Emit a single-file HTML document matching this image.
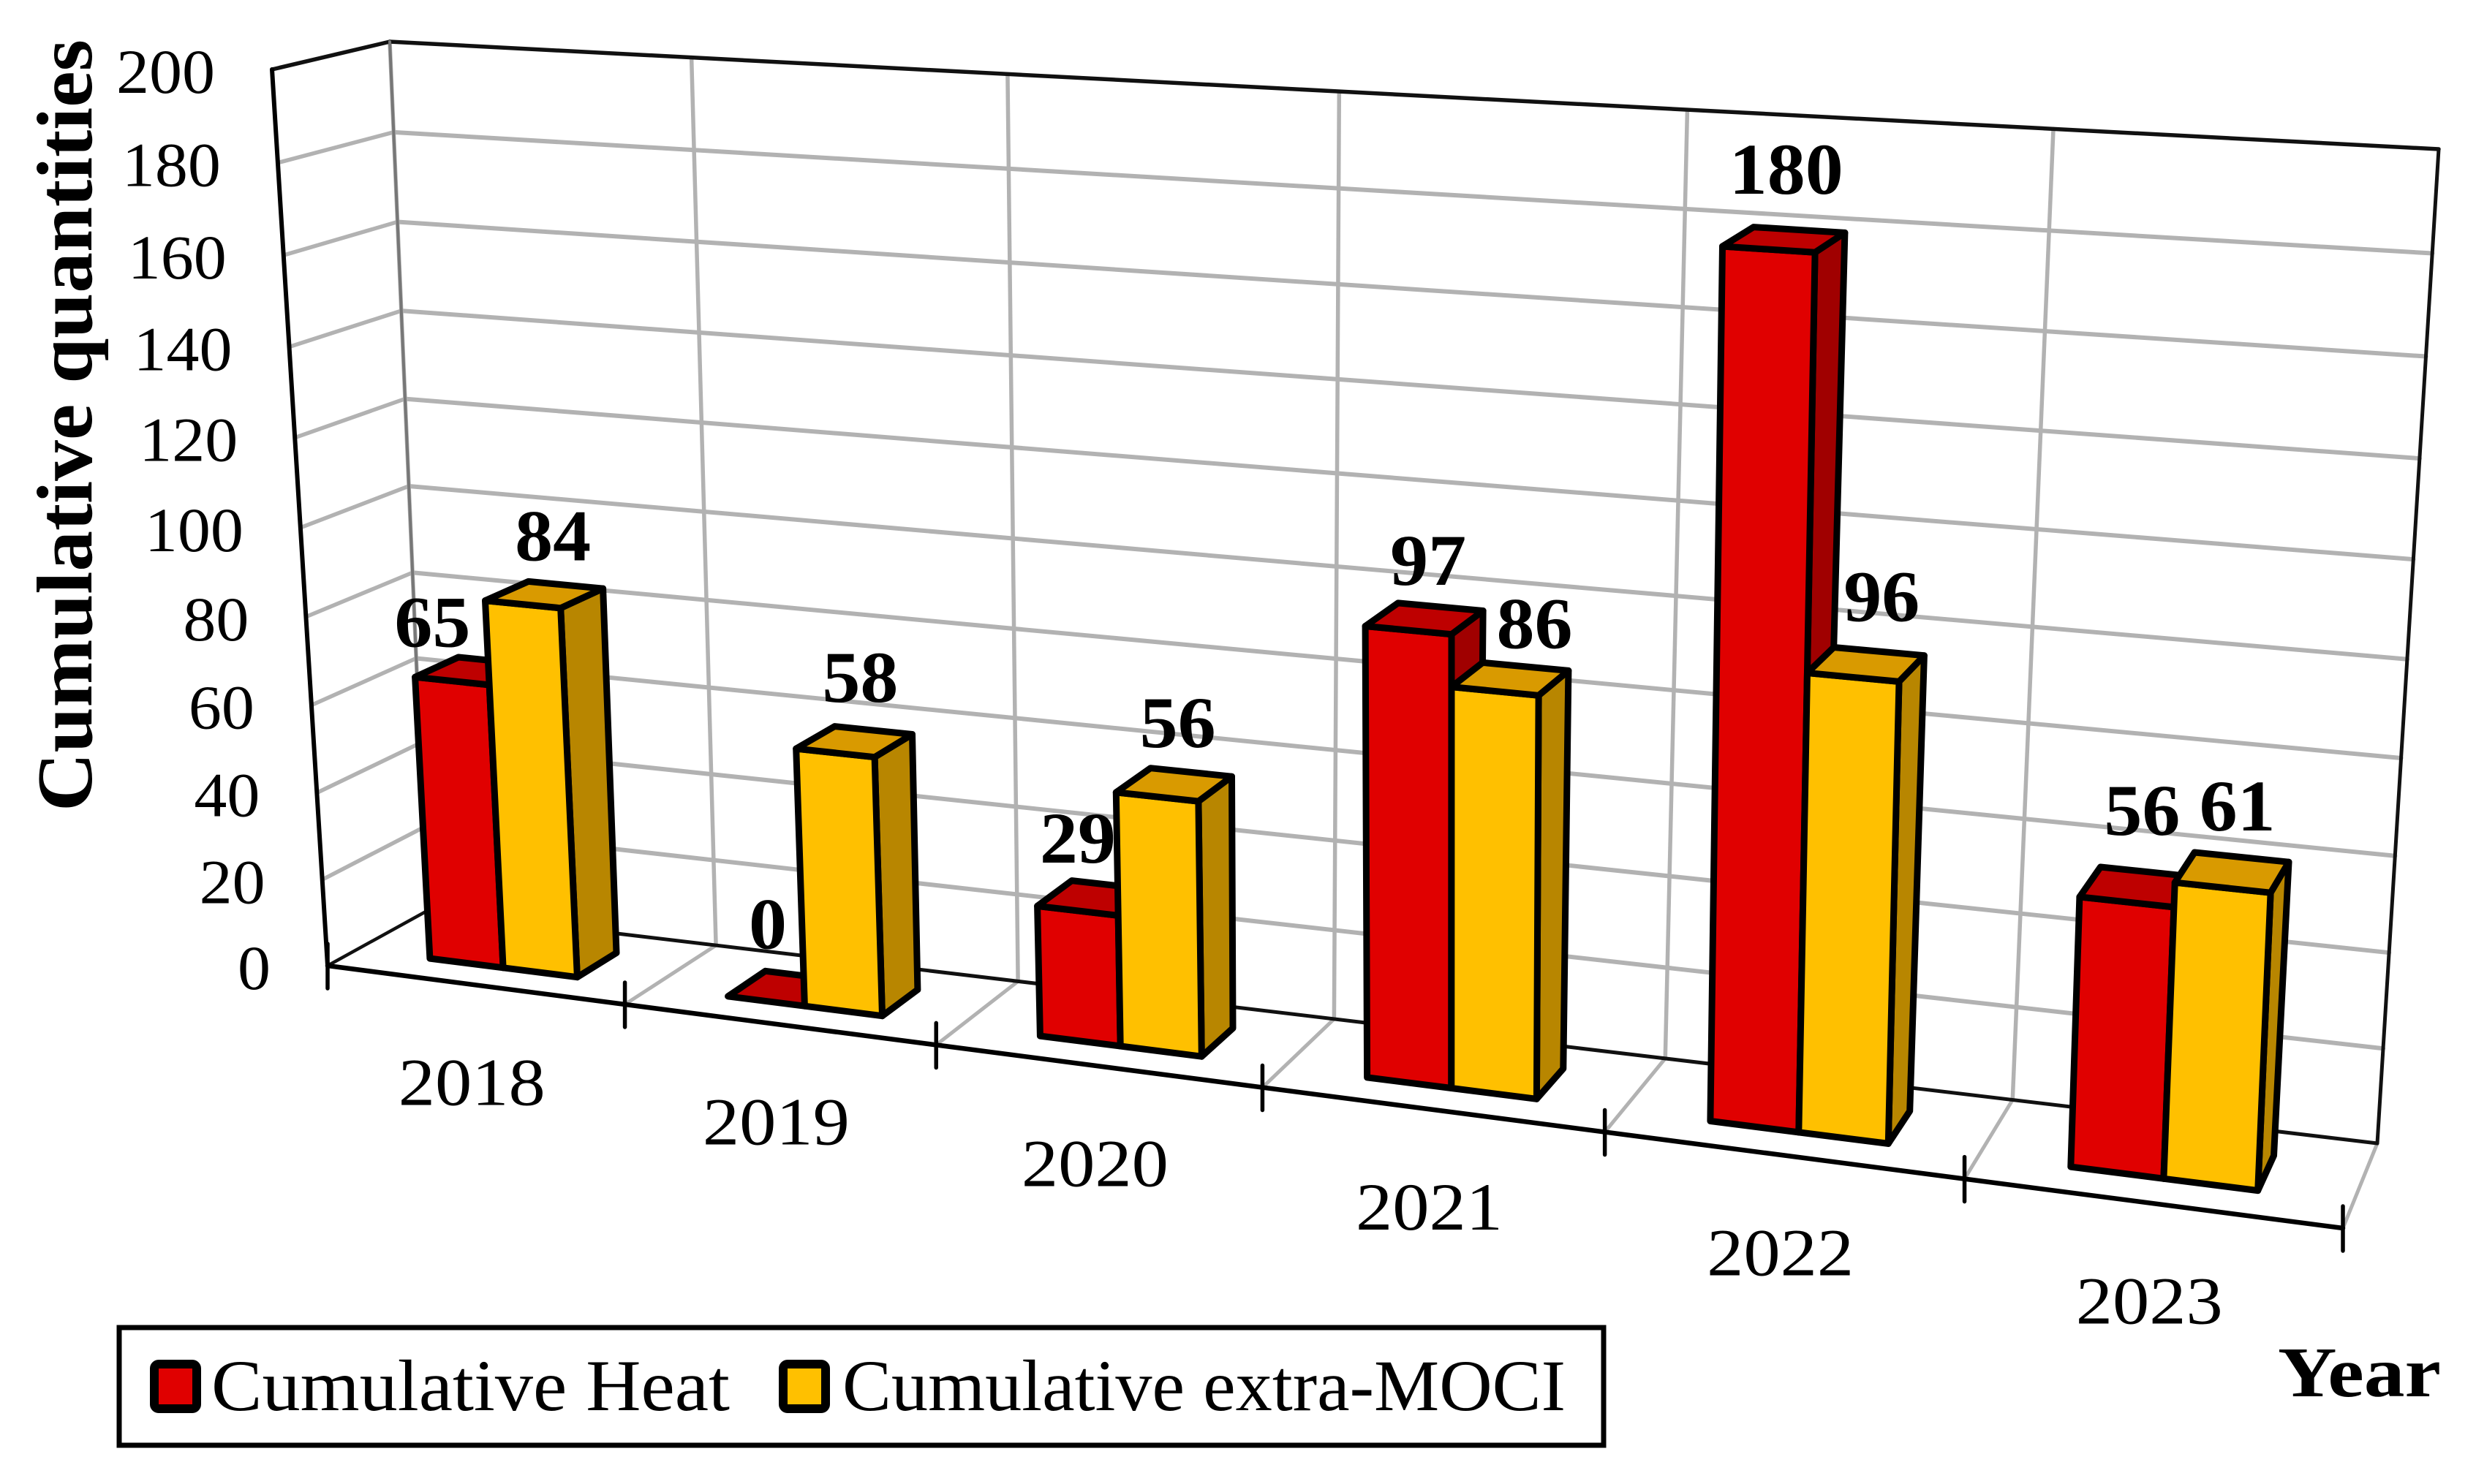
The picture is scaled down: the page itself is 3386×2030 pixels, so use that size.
<!DOCTYPE html>
<html lang="en">
<head>
<meta charset="utf-8">
<title>Cumulative quantities by year</title>
<style>
html,body{margin:0;padding:0;background:#fff;}
svg{display:block;}
text{font-family:"Liberation Serif","DejaVu Serif",serif;fill:#000;}
</style>
</head>
<body>
<svg id="chart" xmlns="http://www.w3.org/2000/svg" width="3386" height="2030" viewBox="0 0 3386 2030">
  <rect x="0" y="0" width="3386" height="2030" fill="#ffffff"/>
  <g id="walls"></g>
  <g id="yticks"></g>
  <g id="xaxis"></g>
  <g id="bars"></g>
  <g id="labels"></g>
  <text transform="translate(125,1110) rotate(-90)" font-size="108" font-weight="700" textLength="1056" lengthAdjust="spacingAndGlyphs">Cumulative quantities</text>
  <text x="3115" y="1910" font-size="98" font-weight="700" textLength="223" lengthAdjust="spacingAndGlyphs">Year</text>
  <g>
    <rect x="163" y="1816" width="2030" height="161" fill="#ffffff" stroke="#000" stroke-width="7"/>
    <g>
      <rect x="211" y="1866" width="58" height="61" rx="6" fill="#E00000" stroke="#000" stroke-width="12"/>
      <text x="289" y="1929" font-size="100" textLength="709" lengthAdjust="spacingAndGlyphs">Cumulative Heat</text>
    </g>
    <g>
      <rect x="1071" y="1866" width="58" height="61" rx="6" fill="#FFC000" stroke="#000" stroke-width="12"/>
      <text x="1152" y="1929" font-size="100" textLength="989" lengthAdjust="spacingAndGlyphs">Cumulative extra-MOCI</text>
    </g>
  </g>
</svg>
<script>
// ---- chart data ----
const categories = ['2018', '2019', '2020', '2021', '2022', '2023'];
const heatValues = [65, 0, 29, 97, 180, 56];
const mociValues = [84, 58, 56, 86, 96, 61];
const yTickLabels = [0, 20, 40, 60, 80, 100, 120, 140, 160, 180, 200];
const yMax = 200;

// ---- manual label nudges relative to each bar's top edge ----
const heatLabelNudge = [[-27, -47], [2, -72], [0, -66], [27, -62], [24, -76], [21, -92]];
const mociLabelNudge = [[41, -60], [34, -70], [28, -68], [54, -59], [39, -77], [20, -78]];

const SVGNS = 'http://www.w3.org/2000/svg';

// Projective planes: corners are bottom-left, bottom-right, top-right, top-left
function planeFromCorners(c) {
  const [x0, y0] = c[0], [x1, y1] = c[1], [x2, y2] = c[2], [x3, y3] = c[3];
  const dx1 = x1 - x2, dx2 = x3 - x2, sx = x0 - x1 + x2 - x3;
  const dy1 = y1 - y2, dy2 = y3 - y2, sy = y0 - y1 + y2 - y3;
  const den = dx1 * dy2 - dx2 * dy1;
  const g = (sx * dy2 - dx2 * sy) / den;
  const h = (dx1 * sy - sx * dy1) / den;
  const a = x1 - x0 + g * x1, b = x3 - x0 + h * x3;
  const d = y1 - y0 + g * y1, e = y3 - y0 + h * y3;
  return function (u, v) {
    const w = g * u + h * v + 1;
    return [(a * u + b * v + x0) / w, (d * u + e * v + y0) / w];
  };
}
const frontPlane = planeFromCorners([[448, 1321], [3204, 1680], [3263, 272], [372, 95]]);
const backPlane = planeFromCorners([[584, 1246], [3251, 1564], [3335, 204], [533, 57]]);

// category axis position -> 0..1 across the plot
function xScale(c) { return c / categories.length; }
// value -> 0..1 up the plot
function yScale(val) { return val / yMax; }
// depth: 0 = front plane, 1 = back wall
function project(u, v, depth) {
  const f = frontPlane(u, v), b = backPlane(u, v);
  return [f[0] + (b[0] - f[0]) * depth, f[1] + (b[1] - f[1]) * depth];
}
function fmt(p) { return p[0].toFixed(1) + ',' + p[1].toFixed(1); }

function addLine(parent, a, b, stroke, width, name) {
  const el = document.createElementNS(SVGNS, 'line');
  el.setAttribute('x1', a[0]); el.setAttribute('y1', a[1]);
  el.setAttribute('x2', b[0]); el.setAttribute('y2', b[1]);
  el.setAttribute('stroke', stroke);
  el.setAttribute('stroke-width', width);
  el.setAttribute('stroke-linecap', 'round');
  
  
  parent.appendChild(el);
}
function addPoly(parent, pts, fill, name) {
  const el = document.createElementNS(SVGNS, 'polygon');
  el.setAttribute('points', pts.map(fmt).join(' '));
  el.setAttribute('fill', fill);
  el.setAttribute('stroke', '#000');
  el.setAttribute('stroke-width', '9');
  el.setAttribute('stroke-linejoin', 'round');
  
  
  parent.appendChild(el);
}
function addText(parent, str, x, y, size, anchor, bold, len, name) {
  const el = document.createElementNS(SVGNS, 'text');
  el.setAttribute('x', x); el.setAttribute('y', y);
  el.setAttribute('font-size', size);
  el.setAttribute('text-anchor', anchor);
  if (bold) el.setAttribute('font-weight', '700');
  if (len) { el.setAttribute('textLength', len); el.setAttribute('lengthAdjust', 'spacingAndGlyphs'); }
  
  
  el.textContent = str;
  parent.appendChild(el);
}

const GRID = '#b2b2b2', DARK = '#111111';
const walls = document.getElementById('walls');
const yticks = document.getElementById('yticks');
const xaxis = document.getElementById('xaxis');
const barsG = document.getElementById('bars');
const labelsG = document.getElementById('labels');

// gridlines for each value tick
yTickLabels.forEach(function (t) {
  const v = yScale(t);
  if (t > 0 && t < yMax) {
    addLine(walls, project(0, v, 0), project(0, v, 1), GRID, 5.5, 'side-wall-gridline-' + t);
    addLine(walls, project(0, v, 1), project(1, v, 1), GRID, 6, 'back-wall-gridline-' + t);
  }
  const p = project(0, v, 0);
  addText(yticks, String(t), p[0] - 78, p[1] + 32, 86, 'end', false, String(t).length * 45, 'y-tick-label-' + t);
});

// vertical wall gridlines and floor lines at category boundaries
for (let i = 0; i <= categories.length; i++) {
  const u = xScale(i);
  if (i < categories.length) {
    addLine(walls, project(u, 0, 1), project(u, 1, 1), GRID, 5.5, 'back-wall-vertical-gridline-' + i);
  }
  if (i > 0) {
    addLine(walls, project(u, 0, 0), project(u, 0, 1), GRID, 5, 'floor-gridline-' + i);
  }
}

// frame edges
addLine(walls, project(0, 1, 0), project(0, 1, 1), DARK, 5.5, 'side-wall-top-edge');
addLine(walls, project(0, 1, 1), project(1, 1, 1), DARK, 5.5, 'back-wall-top-edge');
addLine(walls, project(1, 1, 1), project(1, 0, 1), DARK, 5, 'back-wall-right-edge');
addLine(walls, project(0, 0, 1), project(1, 0, 1), DARK, 5, 'back-wall-bottom-edge');
addLine(walls, project(0, 0, 0), project(0, 0, 1), DARK, 4.5, 'floor-left-edge');
addLine(walls, project(0, 0, 0), project(0, 1, 0), '#000', 6, 'y-axis-line');
addLine(walls, project(0, 0, 1), project(0, 1, 1), '#777', 4, 'back-left-edge');

// x axis, ticks, category labels
addLine(xaxis, project(0, 0, 0), project(1, 0, 0), '#000', 6.5, 'x-axis-line');
for (let i = 0; i <= categories.length; i++) {
  const p = project(xScale(i), 0, 0);
  addLine(xaxis, [p[0], p[1] - 30], [p[0], p[1] + 31], '#000', 5.5, 'x-axis-tick-' + i);
}
categories.forEach(function (cat, i) {
  const a = project(xScale(i), 0, 0), b = project(xScale(i + 1), 0, 0);
  addText(xaxis, cat, (a[0] + b[0]) / 2 - 6, (a[1] + b[1]) / 2 + 164, 92, 'middle', false, 201, 'x-tick-label-' + cat);
});

// bars: one 3-D column occupying half of a category slot
const DEPTH_FRONT = 0.30, DEPTH_BACK = 0.72;
function drawBar(c0, c1, val, front, top, side, name) {
  const u0 = xScale(c0), u1 = xScale(c1), v = yScale(val);
  const fbl = project(u0, 0, DEPTH_FRONT), fbr = project(u1, 0, DEPTH_FRONT);
  const ftl = project(u0, v, DEPTH_FRONT), ftr = project(u1, v, DEPTH_FRONT);
  const bbr = project(u1, 0, DEPTH_BACK);
  const btl = project(u0, v, DEPTH_BACK), btr = project(u1, v, DEPTH_BACK);
  if (val > 0) {
    addPoly(barsG, [fbr, bbr, btr, ftr], side, name + '-side');
    addPoly(barsG, [fbl, fbr, ftr, ftl], front, name + '-front');
  }
  addPoly(barsG, [ftl, ftr, btr, btl], top, name + '-top');
}
categories.forEach(function (cat, i) {
  drawBar(i + 0.25, i + 0.5, heatValues[i], '#E00000', '#BE0000', '#A00000', 'bar-heat-' + cat);
  drawBar(i + 0.5, i + 0.75, mociValues[i], '#FFC000', '#D99A00', '#B88600', 'bar-moci-' + cat);
});

// data labels
function drawLabel(c0, c1, val, nudge, name) {
  const a = project(xScale(c0), yScale(val), DEPTH_FRONT);
  const b = project(xScale(c1), yScale(val), DEPTH_FRONT);
  const str = String(val);
  addText(labelsG, str, (a[0] + b[0]) / 2 + nudge[0], (a[1] + b[1]) / 2 + nudge[1], 100, 'middle', true, 52 * str.length, name);
}
categories.forEach(function (cat, i) {
  drawLabel(i + 0.25, i + 0.5, heatValues[i], heatLabelNudge[i], 'data-label-heat-' + cat);
  drawLabel(i + 0.5, i + 0.75, mociValues[i], mociLabelNudge[i], 'data-label-moci-' + cat);
});
</script>
</body>
</html>
